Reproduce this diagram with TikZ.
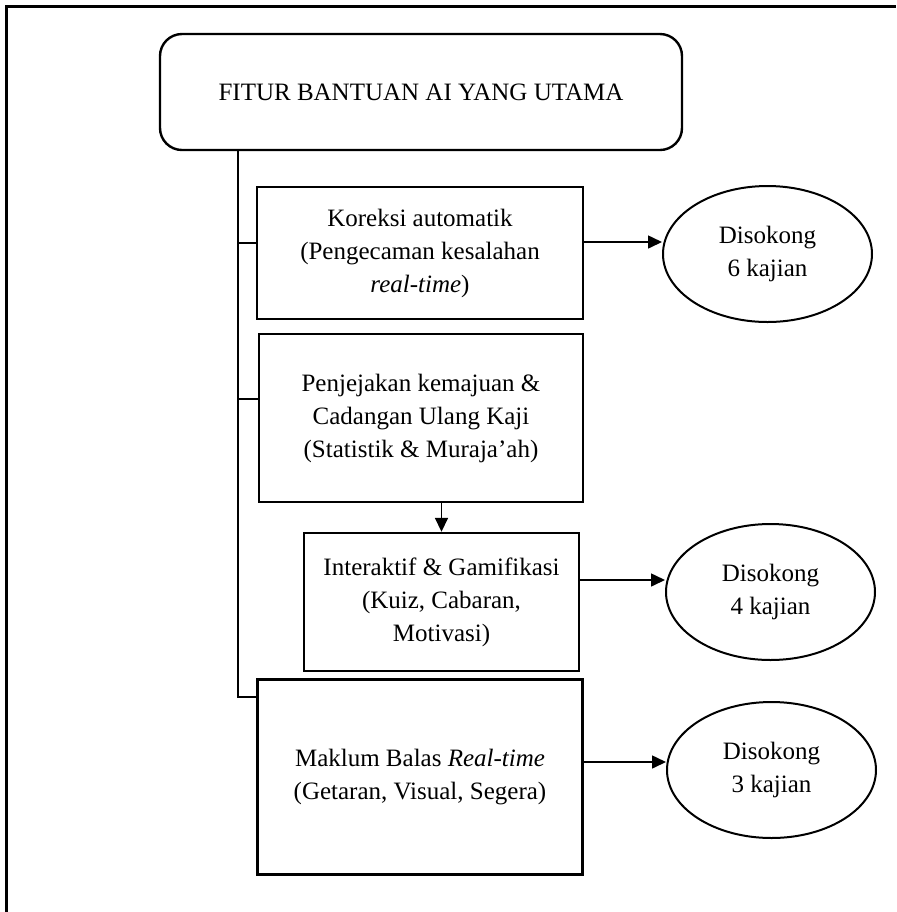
\documentclass[tikz,border=0pt]{standalone}
\usepackage{fontspec}
\setmainfont{Liberation Serif}
\usetikzlibrary{arrows.meta,shapes.geometric}

\begin{document}
\begin{tikzpicture}[x=0.5pt,y=-0.5pt,
    every node/.style={font=\fontsize{12.5}{16.5}\selectfont,align=center,inner sep=0pt},
    kotak/.style={draw,line width=1.2pt,rectangle},
    bujur/.style={draw,line width=1pt,ellipse,minimum width=104.5pt,minimum height=68pt},
    anak/.style={line width=0.8pt,-{Triangle[length=7pt,width=6.5pt]}},
    cabang/.style={line width=1.1pt}]
            \useasboundingbox (0,0) rectangle (896,912);
            \draw[line width=1.5pt] (6,912) -- (6,6) -- (896,6);

            % tajuk
            \node[kotak,rounded corners=11pt,minimum width=261pt,minimum height=58pt] (tajuk) at (421,92) {FITUR BANTUAN AI YANG UTAMA};

            % fitur
            \node[kotak,minimum width=163pt,minimum height=66pt] (koreksi) at (420,253)
                {Koreksi automatik\\(Pengecaman kesalahan\\\textit{real-time})};
            \node[kotak,minimum width=162pt,minimum height=84pt] (jejak) at (421,418)
                {Penjejakan kemajuan \&\\Cadangan Ulang Kaji\\(Statistik \& Muraja’ah)};
            \node[kotak,minimum width=137.5pt,minimum height=69pt] (gamifikasi) at (441.5,602)
                {Interaktif \& Gamifikasi\\(Kuiz, Cabaran,\\Motivasi)};
            \node[kotak,minimum width=162.5pt,minimum height=97.5pt] (maklum) at (420,777)
                {Maklum Balas \textit{Real-time}\\(Getaran, Visual, Segera)};

            % sokongan
            \node[bujur] (sokong1) at (767.5,254) {Disokong\\6 kajian};
            \node[bujur] (sokong2) at (770.5,592) {Disokong\\4 kajian};
            \node[bujur] (sokong3) at (771.5,770) {Disokong\\3 kajian};

            % garis pokok
            \coordinate (batang) at ([xshift=39.5pt]tajuk.south west);
            \draw[cabang] (batang) |- ([yshift=40pt]maklum.west);
            \draw[cabang] ([yshift=5pt]koreksi.west -| batang) -- ([yshift=5pt]koreksi.west);
            \draw[cabang] ([yshift=9.5pt]jejak.west -| batang) -- ([yshift=9.5pt]jejak.west);
            \draw[anak] (jejak.south -| gamifikasi.north) -- (gamifikasi.north);

            \draw[anak] ([yshift=5.5pt]koreksi.east) -- ([yshift=5.5pt]koreksi.east -| sokong1.west);
            \draw[anak] ([yshift=11pt]gamifikasi.east) -- ([yshift=11pt]gamifikasi.east -| sokong2.west);
            \draw[anak] ([yshift=7.5pt]maklum.east) -- ([yshift=7.5pt]maklum.east -| sokong3.west);
        \end{tikzpicture}
\end{document}
